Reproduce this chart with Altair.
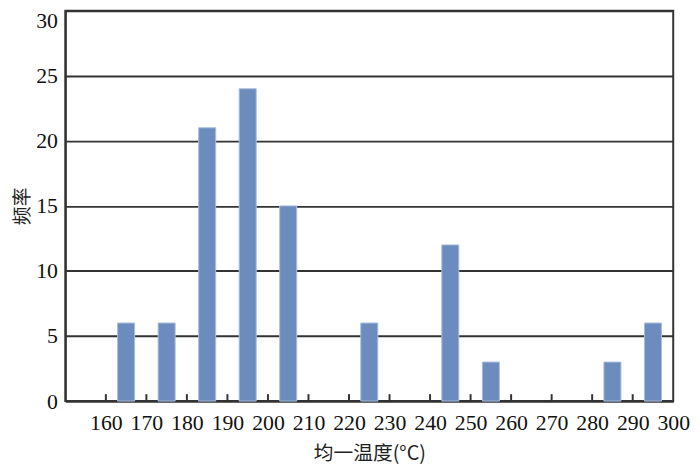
import altair as alt
import pandas as pd

# data
centers = [165, 175, 185, 195, 205, 225, 245, 255, 285, 295]
counts = [6, 6, 21, 24, 15, 6, 12, 3, 3, 6]
x_tick_labels = [160, 170, 180, 190, 200, 210, 220, 230, 240, 250, 260, 270, 280, 290, 300]
inner_ticks = [160, 170, 180, 190, 200, 210, 220, 230, 240, 250, 260, 270, 280, 290]
y_ticks = [0, 5, 10, 15, 20, 25, 30]

df = pd.DataFrame({"center": centers, "count": counts})
tick_df = pd.DataFrame({"t": inner_ticks})

W, H = 615, 395
NUM_FONT = "Liberation Serif"
CJK_FONT = "Noto Sans CJK SC"

xscale = alt.Scale(domain=[150, 300], nice=False, zero=False)
yscale = alt.Scale(domain=[0, 30], nice=False)

x_axis = alt.Axis(
    values=x_tick_labels, ticks=False, grid=False,
    title="均一温度(°C)", labelFont=NUM_FONT, labelFontSize=22,
    labelPadding=12, labelColor="#111", labelFlush=False, labelOverlap=False,
    domainColor="#333", domainWidth=2,
    titleFont=CJK_FONT, titleFontSize=20, titleFontWeight="normal", titleColor="#222",
    titleX=W / 2, titleY=59, titleBaseline="alphabetic", titleAlign="center",
)

bars = alt.Chart(df).transform_calculate(
    x0="datum.center - 2.1", x1="datum.center + 2.1"
).mark_bar(color="#6b8cbc", stroke="#a9bde0", strokeWidth=1).encode(
    x=alt.X("x0:Q", scale=xscale, axis=x_axis),
    x2="x1:Q",
    y=alt.Y("count:Q", scale=yscale, axis=alt.Axis(
        values=y_ticks, ticks=False, grid=True, gridColor="#333", gridWidth=2,
        title="频率", labelFont=NUM_FONT, labelFontSize=22, labelPadding=8,
        labelColor="#111",
        labelBaseline={"condition": {"test": "datum.value == 30", "value": "top"}, "value": "middle"},
        domainColor="#333", domainWidth=2,
        titleFont=CJK_FONT, titleFontSize=19, titleFontWeight="normal", titleColor="#222",
        titleX=-43, titleY=H / 2, titleBaseline="middle", titleAlign="center", titleAngle=-90,
    )),
    y2=alt.datum(0),
)

ticks = alt.Chart(tick_df).mark_rule(color="#333", strokeWidth=2).encode(
    x=alt.X("t:Q", scale=xscale, axis=x_axis),
    y=alt.value(H),
    y2=alt.value(H - 7),
)

chart = alt.layer(bars, ticks).properties(
    width=W, height=H,
    autosize=alt.AutoSizeParams(type="none"),
    padding={"left": 58, "top": 0, "right": 19, "bottom": 65},
    background="white",
).configure_view(stroke="#333", strokeWidth=2)

chart.save("out.html", embed_options={"renderer": "svg", "actions": False})
